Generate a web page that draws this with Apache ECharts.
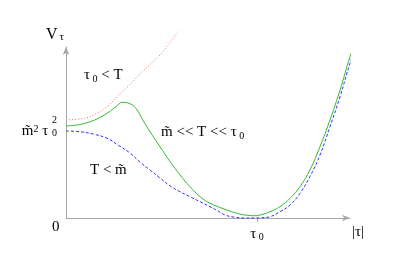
<!DOCTYPE html>
<html><head><meta charset="utf-8">
<script src="https://cdn.jsdelivr.net/npm/echarts@6/dist/echarts.min.js"></script>
<style>html,body{margin:0;padding:0;background:#fff}#c{width:405px;height:263px}</style>
</head><body><div id="c"></div>
<script>
// x in units of tau0, y in units of m~^2 tau0^2
const redX   = [0, 0.058, 0.110, 0.162, 0.215, 0.267, 0.319, 0.403, 0.492, 0.586];
const redY   = [1.077, 1.085, 1.102, 1.151, 1.223, 1.333, 1.434, 1.615, 1.791, 2.047];
const greenX = [0, 0.058, 0.110, 0.162, 0.215, 0.262, 0.293, 0.330, 0.366, 0.408, 0.440, 0.492, 0.545, 0.597, 0.649, 0.702, 0.754, 0.832, 0.885, 0.937, 0.990, 1.016, 1.068, 1.120, 1.173, 1.225, 1.277, 1.330, 1.382, 1.435, 1.487, 1.513];
const greenY = [1.011, 1.022, 1.047, 1.088, 1.151, 1.223, 1.271, 1.260, 1.205, 1.055, 0.948, 0.784, 0.619, 0.473, 0.344, 0.234, 0.162, 0.096, 0.058, 0.033, 0.025, 0.033, 0.069, 0.124, 0.216, 0.344, 0.527, 0.784, 1.077, 1.407, 1.773, 1.920];
const blueX  = [0, 0.073, 0.147, 0.215, 0.272, 0.335, 0.387, 0.440, 0.492, 0.545, 0.597, 0.649, 0.702, 0.754, 0.796, 0.832, 0.885, 0.937, 0.990, 1.016, 1.068, 1.120, 1.173, 1.225, 1.277, 1.330, 1.382, 1.435, 1.487, 1.527];
const blueY  = [0.956, 0.948, 0.920, 0.876, 0.802, 0.714, 0.615, 0.527, 0.440, 0.352, 0.289, 0.234, 0.179, 0.124, 0.077, 0.033, 0.008, 0, 0, 0.002, 0.014, 0.069, 0.143, 0.271, 0.454, 0.692, 1.003, 1.333, 1.700, 1.920];
const xTickValues = [1];
const yTickValues = [1];

const zip = (xs, ys) => xs.map((x, i) => [x, ys[i]]);
const F = 'Liberation Serif';
const axisColor = '#a8a8a8';

const chart = echarts.init(document.getElementById('c'), null, {renderer: 'canvas'});
chart.setOption({
  animation: false,
  backgroundColor: '#fff',
  grid: {left: 66, top: 47, width: 284, height: 171},
  xAxis: {
    type: 'value', min: 0, max: 1.487,
    splitLine: {show: false},
    axisLine: {lineStyle: {color: axisColor, width: 1}, symbol: ['none', 'arrow'], symbolSize: [5, 8]},
    axisTick: {show: true, customValues: xTickValues, length: 4, lineStyle: {color: axisColor}},
    axisLabel: {customValues: xTickValues, margin: 8, formatter: () => '{t|τ}{s| 0}',
      rich: {t: {fontFamily: F, fontSize: 15, color: '#000'}, s: {fontFamily: F, fontSize: 10, color: '#000', verticalAlign: 'bottom', padding: [6, 0, 0, 0]}}},
    name: '{b||τ|}', nameLocation: 'end', nameGap: 2,
    nameTextStyle: {align: 'left', verticalAlign: 'top', padding: [7, 0, 0, 0],
      rich: {b: {fontFamily: F, fontSize: 15, color: '#000'}}}
  },
  yAxis: {
    type: 'value', min: 0, max: 1.879,
    splitLine: {show: false},
    axisLine: {lineStyle: {color: axisColor, width: 1}, symbol: ['none', 'arrow'], symbolSize: [5, 8]},
    axisTick: {show: false},
    axisLabel: {customValues: yTickValues, margin: 9, align: 'right',
      formatter: () => '{q|2}\n{m|m̃}{p|2}{t| τ }{r|0}',
      rich: {
        q: {fontFamily: F, fontSize: 10, color: '#000', lineHeight: 8},
        m: {fontFamily: F, fontSize: 15, color: '#000', lineHeight: 14},
        p: {fontFamily: F, fontSize: 10, color: '#000', verticalAlign: 'top', lineHeight: 14},
        t: {fontFamily: F, fontSize: 15, color: '#000', lineHeight: 14},
        r: {fontFamily: F, fontSize: 10, color: '#000', verticalAlign: 'bottom', lineHeight: 14}
      }},
    name: '{v|V}{s|τ}', nameLocation: 'end', nameGap: 4,
    nameTextStyle: {align: 'right', padding: [0, 2, 0, 0],
      rich: {v: {fontFamily: F, fontSize: 16, color: '#000'}, s: {fontFamily: F, fontSize: 11, color: '#000', verticalAlign: 'bottom', padding: [6, 0, 0, 2]}}}
  },
  series: [
    {type: 'line', data: zip(redX, redY), smooth: 0.4, clip: false, showSymbol: false,
     lineStyle: {color: '#ff7070', width: 1, type: [1, 2]}},
    {type: 'line', data: zip(greenX, greenY), smooth: 0.4, clip: false, showSymbol: false,
     lineStyle: {color: '#33bb33', width: 1}},
    {type: 'line', data: zip(blueX, blueY), smooth: 0.4, clip: false, showSymbol: false,
     lineStyle: {color: '#3030ff', width: 1, type: [3, 2]}}
  ],
  graphic: [
    {type: 'text', x: 52, y: 220, style: {text: '0', fontFamily: F, fontSize: 15, fill: '#000'}},
    {type: 'text', x: 84, y: 67, style: {text: '{t|τ}{s| 0}{t| < T}', fill: '#000',
      rich: {t: {fontFamily: F, fontSize: 15, fill: '#000'}, s: {fontFamily: F, fontSize: 10, fill: '#000', verticalAlign: 'bottom', padding: [7, 0, 0, 0]}}}},
    {type: 'text', x: 90, y: 163, style: {text: 'T < m̃', fontFamily: F, fontSize: 15, fill: '#000'}},
    {type: 'text', x: 161, y: 124, style: {text: '{t|m̃ << T << τ}{s| 0}', fill: '#000',
      rich: {t: {fontFamily: F, fontSize: 15, fill: '#000'}, s: {fontFamily: F, fontSize: 10, fill: '#000', verticalAlign: 'bottom', padding: [7, 0, 0, 0]}}}}
  ]
});
</script></body></html>
